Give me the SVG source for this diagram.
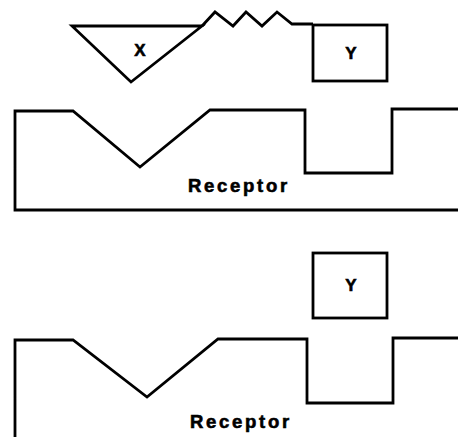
<svg xmlns="http://www.w3.org/2000/svg" width="458" height="437" viewBox="0 0 458 437">
<style>
.ln{fill:none;stroke:#000;stroke-width:2.8;stroke-linejoin:miter}
.lb{font-family:"Liberation Sans",Arial,sans-serif;font-weight:bold;fill:#000;stroke:#000;stroke-width:0.6}
</style>
<rect width="458" height="437" fill="#fff"/>
<g id="ligand-xy">
<polygon class="ln" points="72,26 202,26 131,82"/>
<text class="lb" x="140" y="56" font-size="17" text-anchor="middle">X</text>
<polyline class="ln" points="202,26 215,12 233,26 246,12 262,26 277,12 292,24 313,24"/>
<rect class="ln" x="313" y="25" width="74" height="56"/>
<text class="lb" x="351" y="59" font-size="17" text-anchor="middle">Y</text>
</g>
<g id="receptor-1">
<polyline class="ln" points="458,109 392,109 392,173 305,173 305,110 210,110 140,167 73,111 15,111 15,210 458,210"/>
<text class="lb" x="188" y="192" font-size="18.5" letter-spacing="2.7">Receptor</text>
</g>
<g id="y-free">
<rect class="ln" x="313" y="253" width="74" height="65"/>
<text class="lb" x="351" y="291" font-size="17" text-anchor="middle">Y</text>
</g>
<g id="receptor-2">
<polyline class="ln" points="458,338 393,338 393,403 307,403 307,339 218,339 147,397 73,340 15,340 15,437"/>
<text class="lb" x="190" y="428" font-size="18.5" letter-spacing="2.7">Receptor</text>
</g>
</svg>
